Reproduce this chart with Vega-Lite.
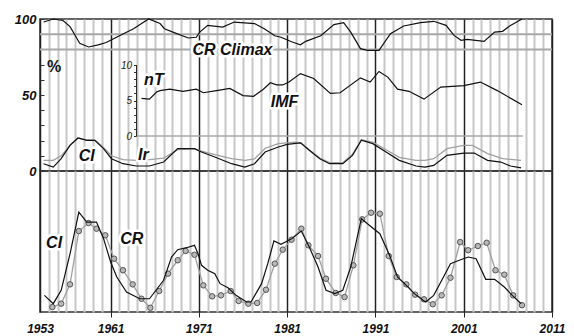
{
  "$schema": "https://vega.github.io/schema/vega-lite/v6.json",
  "background": "white",
  "padding": {"left": 13, "top": 12, "right": 5, "bottom": 0},
  "spacing": 0,
  "bounds": "flush",
  "config": {"view": {"stroke": "#333", "strokeWidth": 1.5}, "font": "Liberation Sans"},
  "datasets": {
    "hlines": [{"year": 1953, "year2": 2011, "v": 80}, {"year": 1953, "year2": 2011, "v": 90}],
    "climax": [
      {"year":1953.4,"v":98},{"year":1954.5,"v":100},{"year":1955.6,"v":99},{"year":1956.4,"v":95},{"year":1957.0,"v":89},{"year":1957.5,"v":84},{"year":1958.5,"v":81.6},{"year":1959.6,"v":83},{"year":1960.5,"v":84.5},{"year":1961,"v":86},{"year":1962,"v":89},{"year":1963.6,"v":93.6},{"year":1965.3,"v":100},{"year":1966.6,"v":97},{"year":1967.1,"v":93.6},{"year":1968.2,"v":91},{"year":1969.8,"v":87.5},{"year":1970.7,"v":88},{"year":1971.1,"v":91.4},{"year":1972,"v":95.8},{"year":1973.7,"v":94.7},{"year":1975,"v":98},{"year":1977.3,"v":97},{"year":1978.4,"v":93.6},{"year":1979.6,"v":89},{"year":1980.3,"v":88},{"year":1981.5,"v":85},{"year":1982.5,"v":83},{"year":1983.1,"v":85.3},{"year":1984.8,"v":89},{"year":1986.3,"v":96.3},{"year":1987.4,"v":97.6},{"year":1988.2,"v":91.4},{"year":1989.3,"v":80.5},{"year":1990.1,"v":79.4},{"year":1991.4,"v":79.4},{"year":1992.7,"v":90.3},{"year":1994.2,"v":95.4},{"year":1996.1,"v":97.6},{"year":1997.6,"v":98.5},{"year":1999,"v":95.8},{"year":1999.9,"v":89.2},{"year":2000.7,"v":86},{"year":2001.4,"v":86.6},{"year":2003.3,"v":85.3},{"year":2004.5,"v":91.4},{"year":2005.4,"v":91.9},{"year":2006.3,"v":95.8},{"year":2007.6,"v":100}
    ],
    "imf": [
      {"year":1964.5,"nT":5.3},{"year":1965.4,"nT":5.2},{"year":1966.2,"nT":6.2},{"year":1966.6,"nT":6.4},{"year":1967.7,"nT":6.6},{"year":1969.2,"nT":6.3},{"year":1970.7,"nT":6.6},{"year":1971.5,"nT":6.1},{"year":1973,"nT":6.4},{"year":1974.5,"nT":6.7},{"year":1976,"nT":5.7},{"year":1977.2,"nT":5.6},{"year":1978.3,"nT":6.6},{"year":1979.1,"nT":7.5},{"year":1979.8,"nT":7.2},{"year":1980.5,"nT":7.2},{"year":1981.2,"nT":7.6},{"year":1982.5,"nT":8.8},{"year":1984,"nT":8.1},{"year":1985.9,"nT":6.0},{"year":1987,"nT":6.1},{"year":1989.3,"nT":8.2},{"year":1990.4,"nT":7.6},{"year":1991.4,"nT":9.1},{"year":1992.4,"nT":8.3},{"year":1993.5,"nT":6.6},{"year":1994.8,"nT":6.3},{"year":1996.5,"nT":5.2},{"year":1998.4,"nT":6.9},{"year":2001,"nT":7.1},{"year":2002.9,"nT":7.6},{"year":2004.8,"nT":6.4},{"year":2007.6,"nT":4.4}
    ],
    "ciTop": [
      {"year":1953.4,"v":4.8},{"year":1954.5,"v":2.6},{"year":1955.4,"v":8.1},{"year":1956.4,"v":16.9},{"year":1957.3,"v":21.7},{"year":1958.3,"v":20.2},{"year":1959.2,"v":20.2},{"year":1960.2,"v":14.7},{"year":1961.1,"v":8.1},{"year":1962.4,"v":4.8},{"year":1963.9,"v":3.3},{"year":1965.4,"v":3.3},{"year":1967,"v":5.9},{"year":1968.6,"v":14.7},{"year":1970.5,"v":14.7},{"year":1971.3,"v":12.5},{"year":1972.8,"v":9.2},{"year":1974.7,"v":4.8},{"year":1976.2,"v":2.6},{"year":1977.3,"v":4.8},{"year":1978.5,"v":12.5},{"year":1980,"v":15.8},{"year":1981,"v":17.5},{"year":1982.5,"v":18.5},{"year":1983.5,"v":13.6},{"year":1984.7,"v":8.1},{"year":1985.8,"v":4.8},{"year":1987.3,"v":4.8},{"year":1988.4,"v":10.3},{"year":1989.4,"v":20.2},{"year":1990.7,"v":18},{"year":1992.2,"v":12.5},{"year":1993.7,"v":7},{"year":1995.6,"v":3.3},{"year":1996.6,"v":2.6},{"year":1997.6,"v":3.7},{"year":1999.1,"v":10.3},{"year":2001,"v":11.8},{"year":2002.2,"v":11.8},{"year":2003.7,"v":7},{"year":2005.2,"v":5.9},{"year":2006.3,"v":3.3},{"year":2007.5,"v":2}
    ],
    "irTop": [
      {"year":1953.4,"v":7},{"year":1954.5,"v":7},{"year":1955.4,"v":10},{"year":1956.4,"v":17},{"year":1957.3,"v":21.7},{"year":1958.3,"v":20.5},{"year":1959.2,"v":20.5},{"year":1960.2,"v":15.5},{"year":1961.1,"v":10},{"year":1962.4,"v":7.5},{"year":1963.9,"v":7},{"year":1965.4,"v":7.5},{"year":1967,"v":8.5},{"year":1968.6,"v":14},{"year":1970.5,"v":14.5},{"year":1971.3,"v":13},{"year":1972.8,"v":10.7},{"year":1974.7,"v":8.1},{"year":1976.2,"v":7},{"year":1977.3,"v":8},{"year":1978.5,"v":15},{"year":1980,"v":18},{"year":1981.9,"v":19},{"year":1982.6,"v":18.5},{"year":1983.5,"v":14},{"year":1984.7,"v":8.5},{"year":1985.8,"v":5.5},{"year":1987.3,"v":5.5},{"year":1988.4,"v":11},{"year":1989.4,"v":20.5},{"year":1990.7,"v":19},{"year":1992.2,"v":14},{"year":1993.7,"v":9},{"year":1995.6,"v":7},{"year":1996.6,"v":7},{"year":1997.6,"v":8.1},{"year":1999.1,"v":14.7},{"year":2001,"v":16.9},{"year":2002,"v":16.9},{"year":2003.7,"v":11.4},{"year":2005.4,"v":8.1},{"year":2007.5,"v":7}
    ],
    "ciBot": [
      {"year":1953.5,"v":11.8},{"year":1954.5,"v":5.9},{"year":1955.4,"v":15.4},{"year":1956.4,"v":41.3},{"year":1957.4,"v":70.9},{"year":1958.3,"v":63.8},{"year":1959.4,"v":63.8},{"year":1960.2,"v":52},{"year":1961,"v":35.5},{"year":1961.7,"v":24.8},{"year":1962.8,"v":14.2},{"year":1964.3,"v":9.4},{"year":1965.4,"v":9.4},{"year":1967,"v":22.5},{"year":1967.9,"v":39},{"year":1968.6,"v":44.2},{"year":1969.6,"v":45.6},{"year":1970.5,"v":47.3},{"year":1970.9,"v":41.3},{"year":1971.3,"v":33.1},{"year":1972,"v":29.6},{"year":1972.8,"v":27.2},{"year":1973.4,"v":20.1},{"year":1974.3,"v":17.2},{"year":1975.2,"v":11.8},{"year":1976.4,"v":7.1},{"year":1976.9,"v":7.1},{"year":1978.1,"v":20.1},{"year":1978.8,"v":34.3},{"year":1979.5,"v":50.4},{"year":1980.3,"v":48},{"year":1981.5,"v":52},{"year":1982.6,"v":57.4},{"year":1983.5,"v":46.1},{"year":1984.5,"v":31.9},{"year":1985.4,"v":15.4},{"year":1986.4,"v":13},{"year":1987.3,"v":15.4},{"year":1988.2,"v":31.9},{"year":1989.4,"v":66.2},{"year":1990.3,"v":61.5},{"year":1991.5,"v":55.5},{"year":1992.6,"v":40.2},{"year":1993.5,"v":24.8},{"year":1994.5,"v":18.9},{"year":1995.4,"v":13},{"year":1996.4,"v":8.3},{"year":1996.7,"v":7.1},{"year":1997.6,"v":11.8},{"year":1998.6,"v":23.6},{"year":1999.5,"v":34.3},{"year":2000.5,"v":36.7},{"year":2001.5,"v":39},{"year":2002.4,"v":37.8},{"year":2003.5,"v":23.2},{"year":2004.5,"v":23.2},{"year":2005.6,"v":17.7},{"year":2006.5,"v":11.8},{"year":2007.5,"v":5.9}
    ],
    "crBot": [
      {"year":1954.4,"v":3.5},{"year":1955.4,"v":5.9},{"year":1956.4,"v":19.6},{"year":1957.4,"v":57.4},{"year":1958.5,"v":63.1},{"year":1959.4,"v":59.1},{"year":1960.4,"v":54.4},{"year":1961.4,"v":37.8},{"year":1962.4,"v":29.6},{"year":1963.5,"v":19.6},{"year":1964.5,"v":9.4},{"year":1965.5,"v":3.0},{"year":1966.5,"v":14.9},{"year":1967.5,"v":27.2},{"year":1968.6,"v":36.7},{"year":1969.5,"v":43.3},{"year":1970.5,"v":40.6},{"year":1971.5,"v":18.9},{"year":1972.5,"v":11.1},{"year":1973.5,"v":11.8},{"year":1974.6,"v":14.9},{"year":1975.5,"v":7.8},{"year":1976.6,"v":5.9},{"year":1977.6,"v":6.4},{"year":1978.6,"v":15.8},{"year":1979.6,"v":34.3},{"year":1980.5,"v":44.2},{"year":1981.5,"v":51.3},{"year":1982.6,"v":59.1},{"year":1983.4,"v":47.3},{"year":1984.5,"v":39.7},{"year":1985.4,"v":23.6},{"year":1986.5,"v":13.5},{"year":1987.5,"v":10.6},{"year":1988.5,"v":33.1},{"year":1989.5,"v":65.7},{"year":1990.5,"v":70.4},{"year":1991.5,"v":69.7},{"year":1992.5,"v":39.7},{"year":1993.4,"v":24.8},{"year":1994.5,"v":19.6},{"year":1995.5,"v":12.3},{"year":1996.5,"v":9},{"year":1997.5,"v":5.5},{"year":1998.5,"v":11.8},{"year":1999.5,"v":24.3},{"year":2000.6,"v":49.6},{"year":2001.5,"v":43.8},{"year":2002.6,"v":46.8},{"year":2003.6,"v":49.1},{"year":2004.6,"v":29.6},{"year":2005.6,"v":26.5},{"year":2006.6,"v":11.8},{"year":2007.6,"v":4.8}
    ],
    "labTop": [
      {"year":1974.8,"v":79.6,"t":"CR Climax"},
      {"year":1965.9,"v":59.9,"t":"nT"},
      {"year":1980.7,"v":45.4,"t":"IMF"},
      {"year":1958.3,"v":9.9,"t":"CI"},
      {"year":1964.7,"v":10.5,"t":"Ir"}
    ],
    "labPct": [
      {"year":1954.6,"v":68.4,"t":"%"}
    ],
    "labBot": [
      {"year":1954.6,"v":48.9,"t":"CI"},
      {"year":1963.4,"v":51.8,"t":"CR"}
    ],
    "insetAxis": [{"year":1963.94,"nT":0,"nT2":10}],
    "insetZero": [{"year":1963.94,"year2":2007.7,"nT":0}]
  },
  "vconcat": [
    {
      "width": 512,
      "height": 152,
      "encoding": {
        "x": {"field": "year", "type": "quantitative", "scale": {"domain": [1953, 2011], "nice": false, "zero": false},
          "axis": {"values": [1953,1954,1955,1956,1957,1958,1959,1960,1961,1962,1963,1964,1965,1966,1967,1968,1969,1970,1971,1972,1973,1974,1975,1976,1977,1978,1979,1980,1981,1982,1983,1984,1985,1986,1987,1988,1989,1990,1991,1992,1993,1994,1995,1996,1997,1998,1999,2000,2001,2002,2003,2004,2005,2006,2007,2008,2009,2010,2011],
            "grid": true,
            "gridColor": {"condition": {"test": "datum.value % 10 == 1 || datum.value == 1953", "value": "#222"}, "value": "#c6c6c6"},
            "gridWidth": {"condition": {"test": "datum.value % 10 == 1 || datum.value == 1953", "value": 1.5}, "value": 2},
            "labels": false, "ticks": false, "domain": false, "title": null, "minExtent": 0, "maxExtent": 0}}
      },
      "resolve": {"scale": {"y": "independent"}, "axis": {"y": "independent"}},
      "layer": [
        {
          "encoding": {
            "y": {"field": "v", "type": "quantitative", "scale": {"domain": [0, 100], "nice": false},
              "axis": {"values": [0,10,20,30,40,50,60,70,80,90,100], "labelExpr": "datum.value % 50 == 0 ? '' + datum.value : ''",
                "labelOverlap": false, "domain": false, "grid": false, "tickSize": -4, "tickColor": "#333", "labelFont": "Liberation Sans",
                "labelFontSize": 13, "labelFontWeight": "bold", "labelFontStyle": "italic", "labelColor": "#111", "labelPadding": 8, "title": null}}
          },
          "layer": [
            {
              "data": {"name": "hlines"},
              "mark": {"type": "rule", "color": "#a8a8a8", "strokeWidth": 2},
              "encoding": {"x2": {"field": "year2"}}
            },
            {
              "data": {"name": "climax"},
              "mark": {"type": "line", "color": "#111", "strokeWidth": 1.2}
            },
            {
              "data": {"name": "irTop"},
              "mark": {"type": "line", "color": "#a0a0a0", "strokeWidth": 1.3}
            },
            {
              "data": {"name": "ciTop"},
              "mark": {"type": "line", "color": "#111", "strokeWidth": 1.2}
            },
            {
              "data": {"name": "labTop"},
              "mark": {"type": "text", "font": "Liberation Sans", "fontSize": 16, "fontWeight": "bold", "fontStyle": "italic", "stroke": "white", "strokeWidth": 5, "strokeJoin": "round", "align": "center", "baseline": "middle"},
              "encoding": {"text": {"field": "t"}}
            },
            {
              "data": {"name": "labTop"},
              "mark": {"type": "text", "font": "Liberation Sans", "fontSize": 16, "fontWeight": "bold", "fontStyle": "italic", "color": "#111", "align": "center", "baseline": "middle"},
              "encoding": {"text": {"field": "t"}}
            },
            {
              "data": {"name": "labPct"},
              "mark": {"type": "text", "font": "Liberation Sans", "fontSize": 16, "fontWeight": "bold", "color": "#111", "align": "center", "baseline": "middle"},
              "encoding": {"text": {"field": "t"}}
            }
          ]
        },
        {
          "encoding": {
            "y": {"field": "nT", "type": "quantitative", "scale": {"domain": [-4.93, 16.49], "nice": false, "zero": false},
              "axis": {"orient": "left", "offset": -96.5, "values": [0,1,2,3,4,5,6,7,8,9,10], "labelExpr": "datum.value % 5 == 0 ? '' + datum.value : ''",
                "labelOverlap": false, "domain": false, "grid": false, "tickSize": 3, "tickColor": "#333", "labelFont": "Liberation Sans", "labelFontSize": 10,
                "labelFontStyle": "italic", "labelColor": "#222", "labelPadding": 2, "title": null}}
          },
          "layer": [
            {
              "data": {"name": "insetZero"},
              "mark": {"type": "rule", "color": "#a8a8a8", "strokeWidth": 1.5},
              "encoding": {"x2": {"field": "year2"}}
            },
            {
              "data": {"name": "insetAxis"},
              "mark": {"type": "rule", "color": "#222", "strokeWidth": 1},
              "encoding": {"y2": {"field": "nT2"}}
            },
            {
              "data": {"name": "imf"},
              "mark": {"type": "line", "color": "#111", "strokeWidth": 1.2}
            }
          ]
        }
      ]
    },
    {
      "width": 512,
      "height": 141,
      "encoding": {
        "x": {"field": "year", "type": "quantitative", "scale": {"domain": [1953, 2011], "nice": false, "zero": false},
          "axis": {"values": [1953,1954,1955,1956,1957,1958,1959,1960,1961,1962,1963,1964,1965,1966,1967,1968,1969,1970,1971,1972,1973,1974,1975,1976,1977,1978,1979,1980,1981,1982,1983,1984,1985,1986,1987,1988,1989,1990,1991,1992,1993,1994,1995,1996,1997,1998,1999,2000,2001,2002,2003,2004,2005,2006,2007,2008,2009,2010,2011],
            "grid": true,
            "gridColor": {"condition": {"test": "datum.value % 10 == 1 || datum.value == 1953", "value": "#222"}, "value": "#c6c6c6"},
            "gridWidth": {"condition": {"test": "datum.value % 10 == 1 || datum.value == 1953", "value": 1.5}, "value": 2},
            "labelExpr": "indexof([1953,1961,1971,1981,1991,2001,2011], datum.value) >= 0 ? '' + datum.value : ''",
            "labelOverlap": false, "labelFlush": false, "labelFont": "Liberation Sans", "labelFontSize": 12, "labelFontWeight": "bold",
            "labelFontStyle": "italic", "labelColor": "#111", "labelPadding": 6,
            "ticks": true, "tickSize": 5, "tickColor": "#222",
            "tickOpacity": {"condition": {"test": "datum.value % 10 == 1", "value": 1}, "value": 0},
            "domain": false, "title": null}},
        "y": {"field": "v", "type": "quantitative", "scale": {"domain": [0, 100], "nice": false}, "axis": null}
      },
      "layer": [
        {
          "data": {"name": "crBot"},
          "mark": {"type": "line", "color": "#a0a0a0", "strokeWidth": 1.3}
        },
        {
          "data": {"name": "crBot"},
          "mark": {"type": "point", "shape": "circle", "filled": true, "fill": "#b8b8b8", "stroke": "#555", "strokeWidth": 1, "size": 30, "opacity": 1}
        },
        {
          "data": {"name": "ciBot"},
          "mark": {"type": "line", "color": "#111", "strokeWidth": 1.2}
        },
        {
          "data": {"name": "labBot"},
          "mark": {"type": "text", "font": "Liberation Sans", "fontSize": 16, "fontWeight": "bold", "fontStyle": "italic", "stroke": "white", "strokeWidth": 5, "strokeJoin": "round", "align": "center", "baseline": "middle"},
          "encoding": {"text": {"field": "t"}}
        },
        {
          "data": {"name": "labBot"},
          "mark": {"type": "text", "font": "Liberation Sans", "fontSize": 16, "fontWeight": "bold", "fontStyle": "italic", "color": "#111", "align": "center", "baseline": "middle"},
          "encoding": {"text": {"field": "t"}}
        }
      ]
    }
  ]
}
